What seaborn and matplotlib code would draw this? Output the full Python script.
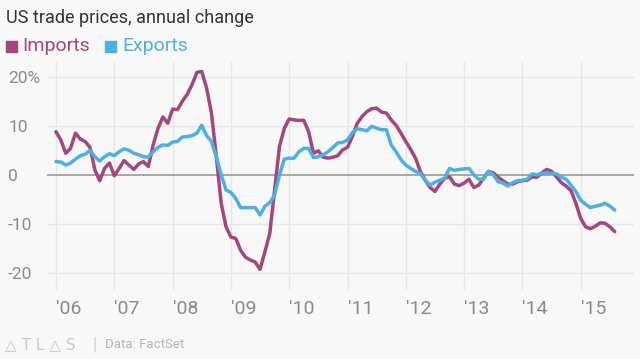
import numpy as np
import pandas as pd
import seaborn as sns
import matplotlib
matplotlib.use("Agg")
import matplotlib.pyplot as plt

# ---- data (annual % change, monthly, Jan 2006 - Aug 2015) ----
imports = [
    8.9, 7.2, 4.5, 5.5, 8.6, 7.4, 6.9, 5.7, 1.1, -1.1, 1.4, 2.5,          # 2006
    -0.1, 1.4, 3.0, 2.1, 1.2, 2.3, 2.8, 1.8, 6.2, 9.6, 11.9, 10.6,        # 2007
    13.5, 13.4, 15.1, 16.5, 18.5, 21.0, 21.2, 17.8, 12.7, 3.8, -5.7, -10.5,  # 2008
    -12.6, -12.9, -15.3, -16.7, -17.3, -17.7, -19.2, -15.6, -11.9, -3.0, 5.9, 9.6,  # 2009
    11.5, 11.3, 11.2, 11.2, 8.9, 4.5, 5.0, 3.7, 3.5, 3.7, 4.0, 5.2,       # 2010
    5.7, 7.9, 10.6, 12.0, 13.0, 13.6, 13.7, 12.9, 12.7, 11.3, 10.2, 8.6,  # 2011
    6.9, 5.3, 3.5, 0.8, -1.0, -2.5, -3.3, -1.8, -0.6, -0.3, -1.8, -2.1,   # 2012
    -1.6, -0.8, -2.5, -2.0, -0.6, 0.8, 0.5, -0.4, -1.1, -1.8, -1.8, -1.3, # 2013
    -1.1, -1.0, -0.3, -0.4, 0.5, 1.2, 0.8, -0.3, -1.5, -2.2, -3.1, -5.7,  # 2014
    -8.8, -10.5, -10.9, -10.4, -9.7, -9.8, -10.5, -11.5,                  # 2015
]
exports = [
    2.8, 2.7, 2.1, 2.5, 3.3, 4.0, 4.3, 5.1, 3.8, 2.9, 3.8, 4.4,           # 2006
    4.0, 4.8, 5.4, 5.1, 4.5, 4.2, 3.8, 3.7, 4.8, 5.7, 6.2, 6.1,           # 2007
    6.8, 6.9, 7.8, 7.9, 8.1, 8.6, 10.2, 8.1, 6.9, 3.8, 0.1, -3.0,         # 2008
    -3.5, -4.7, -6.6, -6.6, -6.6, -6.6, -8.1, -6.3, -5.6, -4.0, 0.1, 3.3, # 2009
    3.5, 3.5, 4.8, 5.5, 5.5, 3.6, 3.8, 4.2, 4.8, 5.7, 6.6, 6.7,           # 2010
    7.2, 8.7, 9.5, 9.3, 9.1, 10.0, 9.6, 9.3, 9.3, 6.2, 4.8, 3.2,          # 2011
    2.1, 1.4, 0.8, 0.4, -1.0, -2.0, -1.4, -1.0, -0.6, 1.4, 1.0, 1.2,      # 2012
    1.3, 1.4, 0.1, -0.8, -0.8, 0.8, 0.1, -1.3, -1.6, -2.2, -1.5, -1.1,    # 2013
    -1.0, -0.8, 0.3, 0.1, 0.4, 0.4, 0.4, 0.3, -0.4, -0.8, -2.0, -3.3,     # 2014
    -5.1, -5.9, -6.6, -6.3, -6.1, -5.7, -6.3, -7.1,                       # 2015
]
start_year = 2006
years = list(range(2006, 2016))
year_labels = ["'06", "'07", "'08", "'09", "'10", "'11", "'12", "'13", "'14", "'15"]
y_ticks = [20, 10, 0, -10, -20]
y_labels = ["20%", "10", "0", "-10", "-20"]
series_names = ["Imports", "Exports"]
colors = {"Imports": "#a4477c", "Exports": "#4cb0e4"}

# ---- build table ----
t = [start_year + i / 12 for i in range(len(imports))]
df = pd.DataFrame({
    "t": t + t,
    "value": imports + exports,
    "series": ["Imports"] * len(imports) + ["Exports"] * len(exports),
})

sns.set_theme(style="white")
plt.rcParams["font.family"] = ["Roboto", "DejaVu Sans"]

BG = "#f8f8f8"
W, H = 640, 359
fig = plt.figure(figsize=(W / 100, H / 100), dpi=100, facecolor=BG)
ax = fig.add_axes([47 / W, 1 - 290 / H, (634 - 47) / W, (290 - 62) / H])
ax.set_facecolor(BG)

# grid
for yv in y_ticks:
    if yv != 0:
        ax.axhline(yv, color="#e6e6e6", lw=1.0, zorder=0)
for xv in years:
    ax.axvline(xv, color="#e6e6e6", lw=1.0, zorder=0)
ax.axhline(0, color="#9a9a9a", lw=1.2, zorder=1)

sns.lineplot(data=df, x="t", y="value", hue="series", hue_order=series_names,
             palette=colors, linewidth=2.5, legend=False, ax=ax, zorder=3)

ax.set_xlim(2006 - 9 / 58.3, 2006 + 578 / 58.3)
ax.set_ylim((175.3 - 290) / 4.9, (175.3 - 62) / 4.9)
for s in ax.spines.values():
    s.set_visible(False)
ax.set_xlabel("")
ax.set_ylabel("")

ax.set_xticks(years)
ax.set_xticklabels(year_labels, ha="left", color="#8a8a8a", fontsize=14)
ax.set_yticks(y_ticks)
ax.set_yticklabels(y_labels, ha="left", color="#8a8a8a", fontsize=12.5)
ax.tick_params(axis="x", length=0, pad=7)
ax.tick_params(axis="y", length=0, pad=28)

# title & legend
fig.text(6 / W, 1 - 18 / H, "US trade prices, annual change", fontsize=13,
         color="#333333", va="center", ha="left")
fig.patches.append(plt.Rectangle((6 / W, 1 - 52 / H), 11 / W, 11 / H,
                                 transform=fig.transFigure, color=colors["Imports"]))
fig.text(22 / W, 1 - 46 / H, "Imports", fontsize=14, color=colors["Imports"],
         va="center", ha="left")
fig.patches.append(plt.Rectangle((105 / W, 1 - 52 / H), 11 / W, 11 / H,
                                 transform=fig.transFigure, color=colors["Exports"]))
fig.text(122 / W, 1 - 46 / H, "Exports", fontsize=14, color=colors["Exports"],
         va="center", ha="left")

# footer
fig.text(5 / W, 1 - 345 / H, "△ T L △ S", fontsize=11, color="#c8c8c8",
         va="center", ha="left", family=["DejaVu Sans"])
fig.text(93 / W, 1 - 345 / H, "|", fontsize=13, color="#d0d0d0",
         va="center", ha="left")
fig.text(105 / W, 1 - 345 / H, "Data: FactSet", fontsize=9.5, color="#b5b5b5",
         va="center", ha="left")

fig.savefig("out.png", dpi=100, facecolor=BG)
